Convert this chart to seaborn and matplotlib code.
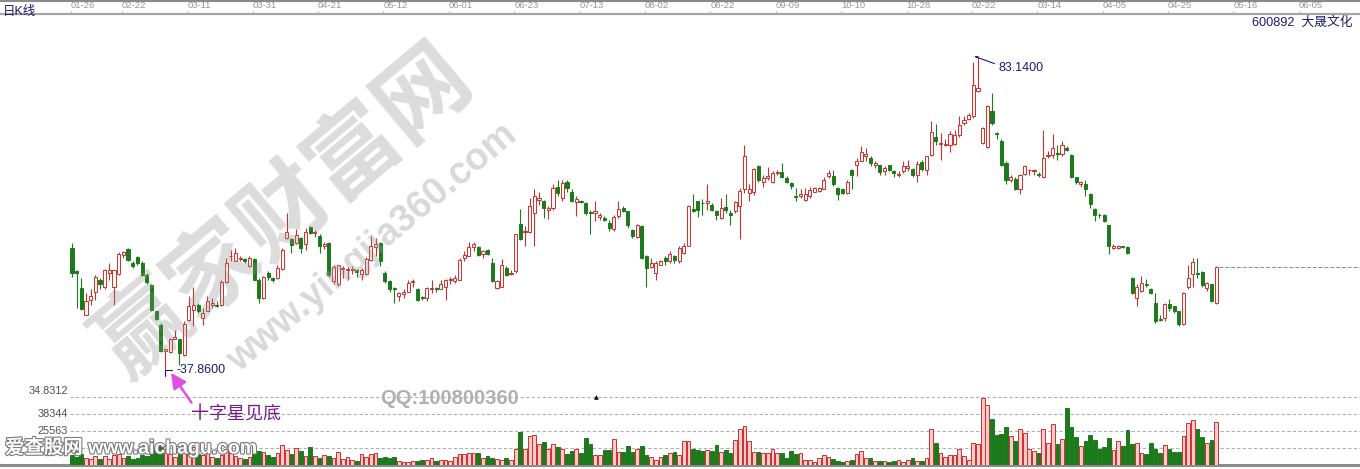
import numpy as np
import matplotlib
matplotlib.use("Agg")
import matplotlib.pyplot as plt
import matplotlib.patheffects as pe
import matplotlib.transforms as mtransforms
import seaborn as sns

# ---- daily OHLC (246 sessions) ----
opens = [
    56.0, 52.7, 50.3, 46.5, 48.6, 49.8, 51.4, 50.5, 52.4, 50.5,
    52.3, 55.0, 55.8, 53.8, 54.7, 53.9, 52.2, 50.7, 47.0, 45.1,
    41.3, 41.2, 43.1, 43.0, 40.8, 45.7, 47.2, 47.9, 46.0, 47.1,
    47.9, 47.9, 47.9, 51.1, 54.8, 54.2, 54.4, 54.4, 53.4, 54.4,
    51.5, 48.9, 52.4, 51.7, 51.7, 53.0, 57.4, 57.2, 56.7, 57.4,
    56.5, 59.0, 58.1, 57.7, 56.3, 56.7, 51.3, 50.9, 53.0, 52.9,
    52.9, 52.8, 52.3, 52.3, 54.3, 56.1, 56.7, 52.5, 51.3, 50.3,
    49.2, 49.5, 49.8, 51.2, 50.2, 49.0, 48.9, 50.1, 50.3, 50.2,
    50.4, 51.4, 51.3, 51.5, 54.6, 54.9, 56.1, 56.1, 55.2, 55.7,
    53.9, 50.3, 50.5, 53.2, 52.3, 52.7, 59.4, 58.2, 58.2, 61.0,
    62.8, 62.7, 61.4, 61.6, 64.6, 63.1, 65.3, 64.0, 62.5, 62.7,
    62.3, 61.1, 61.0, 60.4, 60.2, 59.6, 58.7, 60.5, 61.6, 61.2,
    58.5, 57.6, 59.1, 54.9, 53.3, 52.5, 53.6, 54.6, 54.2, 54.8,
    54.1, 55.3, 56.3, 61.5, 62.6, 62.4, 62.4, 62.1, 61.3, 60.2,
    61.8, 60.9, 61.2, 62.0, 64.3, 63.8, 64.0, 67.6, 65.4, 65.9,
    65.3, 66.6, 66.8, 65.9, 65.2, 63.4, 63.4, 62.8, 63.3, 64.0,
    64.1, 64.4, 66.2, 66.2, 64.5, 64.3, 63.8, 67.1, 67.8, 68.4,
    69.0, 68.8, 67.8, 67.7, 66.9, 67.7, 66.9, 66.3, 66.9, 67.3,
    67.2, 66.3, 68.2, 67.0, 69.2, 71.8, 70.7, 70.6, 70.6, 70.7,
    72.0, 73.7, 74.3, 74.7, 78.2, 70.9, 70.3, 75.4, 72.3, 71.1,
    68.0, 65.7, 65.8, 64.3, 66.5, 67.0, 66.9, 66.5, 66.0, 69.0,
    69.2, 69.5, 69.3, 70.2, 69.2, 66.0, 65.0, 65.1, 63.6, 61.5,
    60.7, 60.7, 59.2, 56.0, 56.0, 56.2, 56.1, 51.7, 48.9, 49.9,
    50.9, 50.2, 48.2, 45.9, 46.1, 48.0, 47.7, 47.0, 45.2, 50.4,
    52.3, 52.4, 52.6, 50.3, 50.8, 48.2,
]
highs = [
    56.7, 52.9, 51.7, 49.6, 50.1, 52.2, 51.7, 53.0, 53.9, 52.9,
    55.4, 55.6, 56.0, 54.1, 54.9, 54.1, 52.4, 50.8, 47.1, 45.3,
    41.7, 43.2, 44.4, 43.1, 45.6, 49.2, 50.5, 48.2, 47.5, 49.1,
    48.9, 48.4, 51.5, 54.6, 55.7, 56.0, 54.9, 54.6, 54.8, 54.6,
    51.7, 52.0, 52.7, 51.9, 53.5, 56.0, 61.0, 57.4, 58.7, 57.6,
    58.8, 59.1, 58.6, 57.9, 56.9, 56.8, 53.6, 53.6, 53.4, 53.3,
    53.4, 53.0, 53.1, 54.7, 57.7, 57.4, 56.8, 52.7, 51.4, 50.5,
    49.8, 50.1, 51.4, 51.6, 50.3, 49.2, 50.5, 51.4, 50.4, 51.5,
    51.6, 51.9, 52.1, 54.6, 55.5, 56.8, 56.9, 56.3, 55.7, 55.8,
    54.6, 51.5, 54.4, 53.4, 52.9, 58.0, 61.5, 59.1, 63.1, 64.3,
    64.0, 62.8, 62.0, 65.0, 65.7, 65.7, 65.7, 64.3, 63.3, 62.8,
    62.5, 61.4, 62.7, 61.0, 60.5, 60.0, 60.7, 62.6, 62.0, 61.3,
    58.7, 59.4, 59.2, 55.0, 54.6, 54.1, 54.3, 54.9, 55.5, 55.0,
    56.2, 56.7, 62.1, 63.7, 62.7, 63.0, 65.0, 62.3, 61.4, 63.1,
    63.6, 61.4, 62.7, 64.5, 70.6, 65.0, 67.3, 67.7, 66.4, 67.5,
    66.9, 67.0, 68.1, 66.2, 65.4, 64.5, 64.3, 64.5, 64.6, 64.6,
    64.6, 66.0, 67.1, 67.0, 64.6, 64.4, 65.6, 67.2, 68.8, 70.5,
    70.2, 69.0, 68.3, 67.8, 67.6, 67.8, 67.1, 66.9, 68.4, 68.5,
    67.4, 68.3, 68.5, 69.1, 74.0, 73.6, 72.3, 71.4, 72.6, 72.8,
    74.7, 74.7, 75.1, 82.4, 83.14, 73.2, 76.3, 78.0, 72.5, 71.5,
    68.3, 66.3, 66.0, 66.5, 67.7, 67.2, 67.2, 66.7, 72.8, 69.7,
    72.2, 70.6, 71.1, 70.4, 69.3, 66.1, 65.5, 65.7, 63.8, 61.7,
    60.9, 60.8, 59.3, 56.5, 56.4, 56.3, 56.2, 51.8, 50.8, 52.0,
    51.6, 50.3, 49.6, 46.5, 48.2, 48.8, 47.8, 47.1, 49.7, 53.6,
    54.5, 54.6, 52.7, 51.2, 50.9, 53.4,
]
lows = [
    51.9, 47.5, 47.2, 46.4, 47.9, 48.6, 50.1, 50.1, 51.5, 47.9,
    52.2, 54.6, 54.2, 53.1, 53.6, 52.0, 50.9, 47.1, 45.8, 41.2,
    37.86, 41.1, 43.0, 39.4, 40.7, 45.6, 44.9, 46.8, 45.0, 47.0,
    47.5, 47.6, 47.8, 51.0, 54.1, 54.1, 54.1, 53.8, 53.3, 51.4,
    48.2, 48.7, 51.5, 51.2, 51.6, 52.9, 57.3, 55.3, 56.5, 55.3,
    55.7, 57.9, 57.5, 55.3, 55.8, 51.9, 50.8, 50.6, 51.7, 51.4,
    52.3, 51.9, 51.5, 52.1, 54.1, 54.8, 53.4, 51.0, 49.8, 48.2,
    48.4, 48.9, 49.7, 50.5, 48.4, 48.6, 48.4, 49.6, 49.8, 50.1,
    48.6, 50.8, 51.0, 51.4, 54.1, 54.8, 55.5, 54.8, 54.6, 55.0,
    51.1, 50.2, 50.4, 52.0, 52.1, 52.5, 57.1, 56.2, 58.1, 56.2,
    62.1, 60.2, 60.1, 61.4, 63.3, 62.6, 64.0, 62.5, 60.5, 62.3,
    60.7, 57.9, 59.8, 59.9, 59.8, 58.4, 58.4, 60.2, 61.1, 58.8,
    57.4, 57.4, 54.4, 50.5, 53.1, 51.5, 53.5, 53.6, 53.9, 53.9,
    53.9, 55.2, 56.2, 61.1, 60.4, 60.6, 61.4, 61.2, 59.9, 60.1,
    61.0, 59.3, 61.0, 57.3, 63.8, 62.6, 63.5, 65.4, 64.7, 65.7,
    65.2, 66.4, 65.9, 65.2, 64.4, 62.7, 63.1, 62.7, 63.1, 63.9,
    64.0, 64.3, 65.9, 64.8, 62.8, 63.7, 63.6, 64.3, 66.2, 68.3,
    68.4, 67.6, 67.3, 66.4, 66.4, 66.9, 66.0, 66.1, 66.6, 66.9,
    66.1, 65.4, 66.9, 66.3, 69.1, 70.6, 68.5, 70.4, 69.6, 70.6,
    71.8, 73.5, 74.2, 74.5, 78.1, 70.8, 70.2, 73.5, 71.5, 67.6,
    65.1, 65.4, 64.2, 63.6, 66.3, 66.4, 66.3, 66.1, 65.9, 68.8,
    68.8, 68.5, 69.1, 69.7, 65.9, 65.1, 64.7, 63.3, 61.7, 59.8,
    60.3, 59.7, 55.1, 55.9, 55.9, 56.0, 55.1, 49.4, 47.7, 49.8,
    50.5, 49.4, 45.3, 45.6, 45.6, 47.0, 46.7, 44.9, 45.1, 50.2,
    50.4, 51.7, 50.4, 49.9, 48.3, 48.0,
]
closes = [
    52.4, 52.5, 47.3, 48.4, 49.2, 51.9, 50.8, 52.9, 52.8, 52.8,
    55.2, 55.4, 54.3, 53.4, 53.8, 52.2, 51.1, 47.2, 45.9, 41.3,
    41.6, 43.1, 43.4, 41.1, 45.2, 47.7, 47.9, 47.0, 46.7, 48.4,
    48.2, 47.8, 51.2, 53.8, 54.9, 55.3, 54.6, 54.2, 54.6, 51.5,
    48.9, 51.9, 51.9, 51.4, 53.1, 55.7, 58.2, 56.4, 57.8, 56.0,
    58.2, 58.1, 58.2, 56.2, 56.5, 52.2, 53.3, 53.5, 53.1, 53.0,
    53.0, 52.6, 52.8, 54.4, 56.2, 56.5, 54.1, 51.3, 50.2, 50.1,
    49.6, 49.7, 51.0, 51.3, 48.6, 48.9, 50.3, 50.3, 50.1, 50.8,
    51.4, 51.6, 51.7, 54.3, 55.0, 56.1, 56.6, 55.0, 55.5, 55.2,
    51.3, 51.3, 53.5, 52.1, 52.5, 57.9, 57.2, 58.4, 61.9, 63.3,
    63.1, 61.6, 61.7, 64.5, 63.8, 65.2, 64.5, 62.6, 62.9, 62.5,
    61.0, 60.9, 61.2, 60.6, 59.9, 58.8, 60.4, 61.5, 61.3, 59.2,
    57.7, 59.3, 54.6, 53.1, 53.9, 53.8, 54.2, 54.1, 55.2, 54.3,
    56.0, 56.3, 62.0, 61.2, 61.4, 62.3, 62.6, 61.4, 60.6, 61.7,
    61.4, 60.7, 62.5, 64.1, 69.0, 64.3, 67.2, 65.6, 65.9, 66.2,
    66.6, 66.8, 66.1, 65.3, 64.8, 63.2, 63.6, 63.7, 64.2, 64.5,
    64.5, 65.7, 66.6, 65.0, 63.6, 63.8, 65.3, 66.4, 68.4, 69.6,
    69.3, 68.1, 68.0, 66.7, 67.3, 67.0, 66.6, 66.5, 67.6, 67.6,
    66.4, 67.9, 67.2, 69.0, 72.4, 71.1, 70.9, 70.7, 72.1, 72.0,
    73.5, 74.2, 74.9, 79.1, 78.7, 73.0, 76.1, 73.7, 72.2, 67.7,
    65.7, 66.1, 64.4, 66.4, 67.6, 67.1, 67.0, 66.3, 68.8, 69.2,
    70.2, 69.3, 70.6, 69.9, 66.0, 65.3, 65.3, 64.3, 62.2, 60.7,
    60.6, 59.8, 56.2, 56.2, 56.2, 56.1, 55.3, 49.6, 50.5, 51.0,
    50.7, 49.6, 45.6, 45.8, 48.0, 47.5, 47.0, 45.2, 49.6, 51.7,
    54.0, 52.3, 50.7, 51.0, 48.5, 53.3,
]
volumes = [
    7500, 6000, 8200, 5000, 4500, 6500, 4800, 7000, 4200, 7600,
    8000, 5200, 6800, 4500, 5600, 7200, 6400, 11000, 12500, 14300,
    9000, 8200, 6200, 10500, 9800, 12800, 13300, 8500, 7200, 9500,
    6200, 5400, 7600, 11300, 9600, 6800, 5200, 4600, 6000, 11800,
    10200, 9400, 7400, 6200, 9000, 15000, 11500, 8200, 12600, 10400,
    7000, 13800, 6400, 5200, 7300, 6600, 5000, 9400, 4600, 6000,
    4100, 3300, 7900, 6000, 7900, 8700, 5200, 5700, 5200, 5700,
    3300, 2400, 2400, 2700, 2700, 3800, 3800, 5200, 3000, 4100,
    4100, 3000, 6000, 7900, 8400, 8700, 9200, 9000, 5400, 6800,
    5200, 4600, 4100, 5200, 3800, 12200, 24500, 12200, 21500, 22800,
    16000, 17400, 12000, 15500, 13300, 12200, 7900, 10600, 12200, 9200,
    20400, 15500, 7300, 7300, 11400, 11200, 19600, 9500, 9500, 14100,
    10100, 12000, 14100, 7300, 6000, 4100, 6000, 7300, 8700, 10100,
    7300, 17700, 18200, 12200, 11400, 10600, 11400, 10600, 15000, 10100,
    11400, 8700, 19000, 26900, 29600, 18200, 10100, 10100, 8700, 9200,
    12200, 8700, 8700, 5200, 10600, 8000,
    8700, 4100, 4100, 2400, 5200, 7300, 6000, 4500, 3300, 2400,
    3000, 4100, 7900, 10600, 5200, 5200, 3300, 3300, 3300, 1900,
    2800, 4100, 1900, 4100, 5200, 3300, 3300, 5200, 26900, 16900,
    9200, 6000, 7300, 7300, 12200, 6500, 4100, 16300, 15500,
    50000, 44900, 34500, 22300, 23100, 28600, 21500, 18200, 26900, 23700,
    12000, 10500, 9200, 26900, 16300, 31000, 16000, 19600, 42700, 28600,
    20900, 14100, 18200, 22300, 19000, 12200, 13300, 20400, 11400, 17700,
    14100, 26400, 16000, 16900, 8700, 7900, 16900, 12200, 8700, 15000,
    12200, 10100, 9500, 21500, 31300, 33700, 26900, 20900, 16900, 19000,
    32600,
]

date_labels = ["01-26", "02-22", "03-11", "03-31", "04-21", "05-12", "06-01",
               "06-23", "07-13", "08-02", "08-22", "09-09", "10-10", "10-28",
               "02-22", "03-14", "04-05", "04-25", "05-16", "06-05"]
date_pos = [0] + list(range(11, 264, 14))

vol_lines = [38344, 25563, 12781]
price_floor = 34.8312

o = np.array(opens)
h = np.array(highs)
l = np.array(lows)
c = np.array(closes)
v = np.array(volumes)
n = len(c)
assert len(o) == len(h) == len(l) == n == len(v)
x = np.arange(n)
up = c >= o

RED = "#c8322d"
GREEN = "#1c7a1c"
NAVY = "#1c1c6c"

sns.set_theme(style="white")
plt.rcParams["font.family"] = ["Liberation Sans", "Noto Sans CJK SC", "DejaVu Sans"]

W, H = 1360, 469
fig = plt.figure(figsize=(W / 100, H / 100), dpi=100, facecolor="white")

xlim = (-72 / 4.67, (W - 72) / 4.67)

# price panel
ax = fig.add_axes([0, 1 - 397 / H, 1, 383 / H])
ax.set_facecolor("none")
ax.set_zorder(3)
ax.set_xlim(*xlim)
ax.set_ylim(price_floor, price_floor + 383 / 7.045)

wick_col = np.where(up, RED, GREEN)
ax.vlines(x, l, h, colors=wick_col, lw=0.8, zorder=2)
body = np.maximum(np.abs(c - o), 0.1)
ax.bar(x, body, bottom=np.minimum(o, c), width=0.66,
       color=np.where(up, "#fff6f6", GREEN), edgecolor=wick_col,
       linewidth=0.7, zorder=3)

# last close level
ax.hlines(c[-1], n - 0.4, xlim[1], colors="#8a8a8a", linestyles=(0, (4, 2)), lw=0.7)

# bottom dashed line of the price panel
ax.axhline(price_floor, xmin=70 / W, color="#b0b0b0", ls=(0, (3, 2)), lw=0.8, clip_on=False)

for s in ["left", "right", "bottom"]:
    ax.spines[s].set_visible(False)
ax.spines["top"].set_color("#a5a5a5")
ax.spines["top"].set_linewidth(1.6)
ax.set_yticks([])
ax.xaxis.tick_top()
ax.set_xticks(np.array(date_pos) - 0.3)
ax.set_xticklabels(date_labels, ha="left")
ax.tick_params(axis="x", length=2, width=0.6, color="#a5a5a5", pad=1.2,
               labelsize=6.8, labelcolor="#969696")

# extreme annotations
i_lo = int(np.argmin(l))
i_hi = int(np.argmax(h))
ax.annotate(f"-{l[i_lo]:.4f}", xy=(i_lo, l[i_lo]), xytext=(11, 6),
            textcoords="offset pixels", ha="left", va="center", fontsize=9,
            color=NAVY, annotation_clip=False,
            arrowprops=dict(arrowstyle="-", color=NAVY, lw=0.8, shrinkA=1, shrinkB=0,
                            connectionstyle="angle,angleA=180,angleB=90,rad=0"))
ax.annotate(f"{h[i_hi]:.4f}", xy=(i_hi, h[i_hi]), xytext=(21, -11),
            textcoords="offset pixels", ha="left", va="center", fontsize=9,
            color=NAVY, annotation_clip=False,
            arrowprops=dict(arrowstyle="-", color=NAVY, lw=0.8, shrinkA=1, shrinkB=0,
                            relpos=(0, 0.7),
                            connectionstyle="angle,angleA=160,angleB=0,rad=0"))
ax.annotate("十字星见底", xy=(i_lo + 1.2, l[i_lo] + 0.4), xytext=(20, -42),
            textcoords="offset pixels", ha="left", va="center", fontsize=13,
            color="#7a1a8a", family=["Noto Sans CJK SC"], annotation_clip=False,
            arrowprops=dict(arrowstyle="-|>,head_length=0.7,head_width=0.35",
                            color="#e04fe0", lw=1.8, shrinkA=0, shrinkB=0,
                            relpos=(0.03, 1.0)))

# volume panel
axv = fig.add_axes([0, 4 / H, 1, 68 / H])
axv.set_facecolor("none")
axv.set_zorder(2)
axv.set_xlim(*xlim)
axv.set_ylim(0, 38344 * 68 / 51)
axv.bar(x, v, width=0.8, color=np.where(up, "#ffcaca", GREEN),
        edgecolor=wick_col, linewidth=0.7, zorder=3)
for val in vol_lines:
    axv.axhline(val, xmin=70 / W, color="#b0b0b0", ls=(0, (3, 2)), lw=0.8, zorder=1)
sns.despine(ax=axv, left=True, top=True, right=True)
axv.spines["bottom"].set_color("#8c8c8c")
axv.spines["bottom"].set_linewidth(2.2)
axv.set_xticks([])
axv.set_yticks([])

lab = mtransforms.blended_transform_factory(fig.transFigure, axv.transData)
for val in vol_lines[:2]:
    axv.text(68 / W, val, str(val), transform=lab, ha="right", va="center",
             fontsize=7.8, color="#505050")

# overlay in pixel coordinates for header, watermarks
ov = fig.add_axes([0, 0, 1, 1])
ov.set_zorder(5)
ov.set_xlim(0, W)
ov.set_ylim(H, 0)
ov.axis("off")
ov.patch.set_alpha(0)

ov.axhline(0.6, color="#8a8a8a", lw=1.5)
ov.text(3, 12.5, "日K线", fontsize=9, color=NAVY, va="center", ha="left")
ov.text(1352, 22.5, "600892  大晟文化", fontsize=9.2, color=NAVY, va="center", ha="right")
ov.text(68, 391, f"{price_floor:.4f}", fontsize=7.8, color="#505050", ha="right", va="center")

ov.text(285, 212, "赢家财富网", rotation=40, ha="center", va="center", fontsize=66,
        fontweight="bold", color="#8c8c8c", alpha=0.3, family=["Noto Sans CJK SC"])
ov.text(372, 248, "www.yingjia360.com", rotation=40, ha="center", va="center",
        fontsize=27, fontweight="bold", color="#9a9a9a", alpha=0.38)
ov.text(380, 398, "QQ:100800360", ha="left", va="center", fontsize=14.5,
        fontweight="bold", color="#b0b0b0")
ov.text(596, 398, "▲", ha="center", va="center", fontsize=4.5, color="black",
        family=["DejaVu Sans"])
ov.text(5, 447, "爱查股网 www.aichagu.com", ha="left", va="center", fontsize=14,
        color="white", fontweight="bold",
        path_effects=[pe.withStroke(linewidth=1.6, foreground="#7a7a7a")])

fig.savefig("out.png", dpi=100, facecolor="white")
